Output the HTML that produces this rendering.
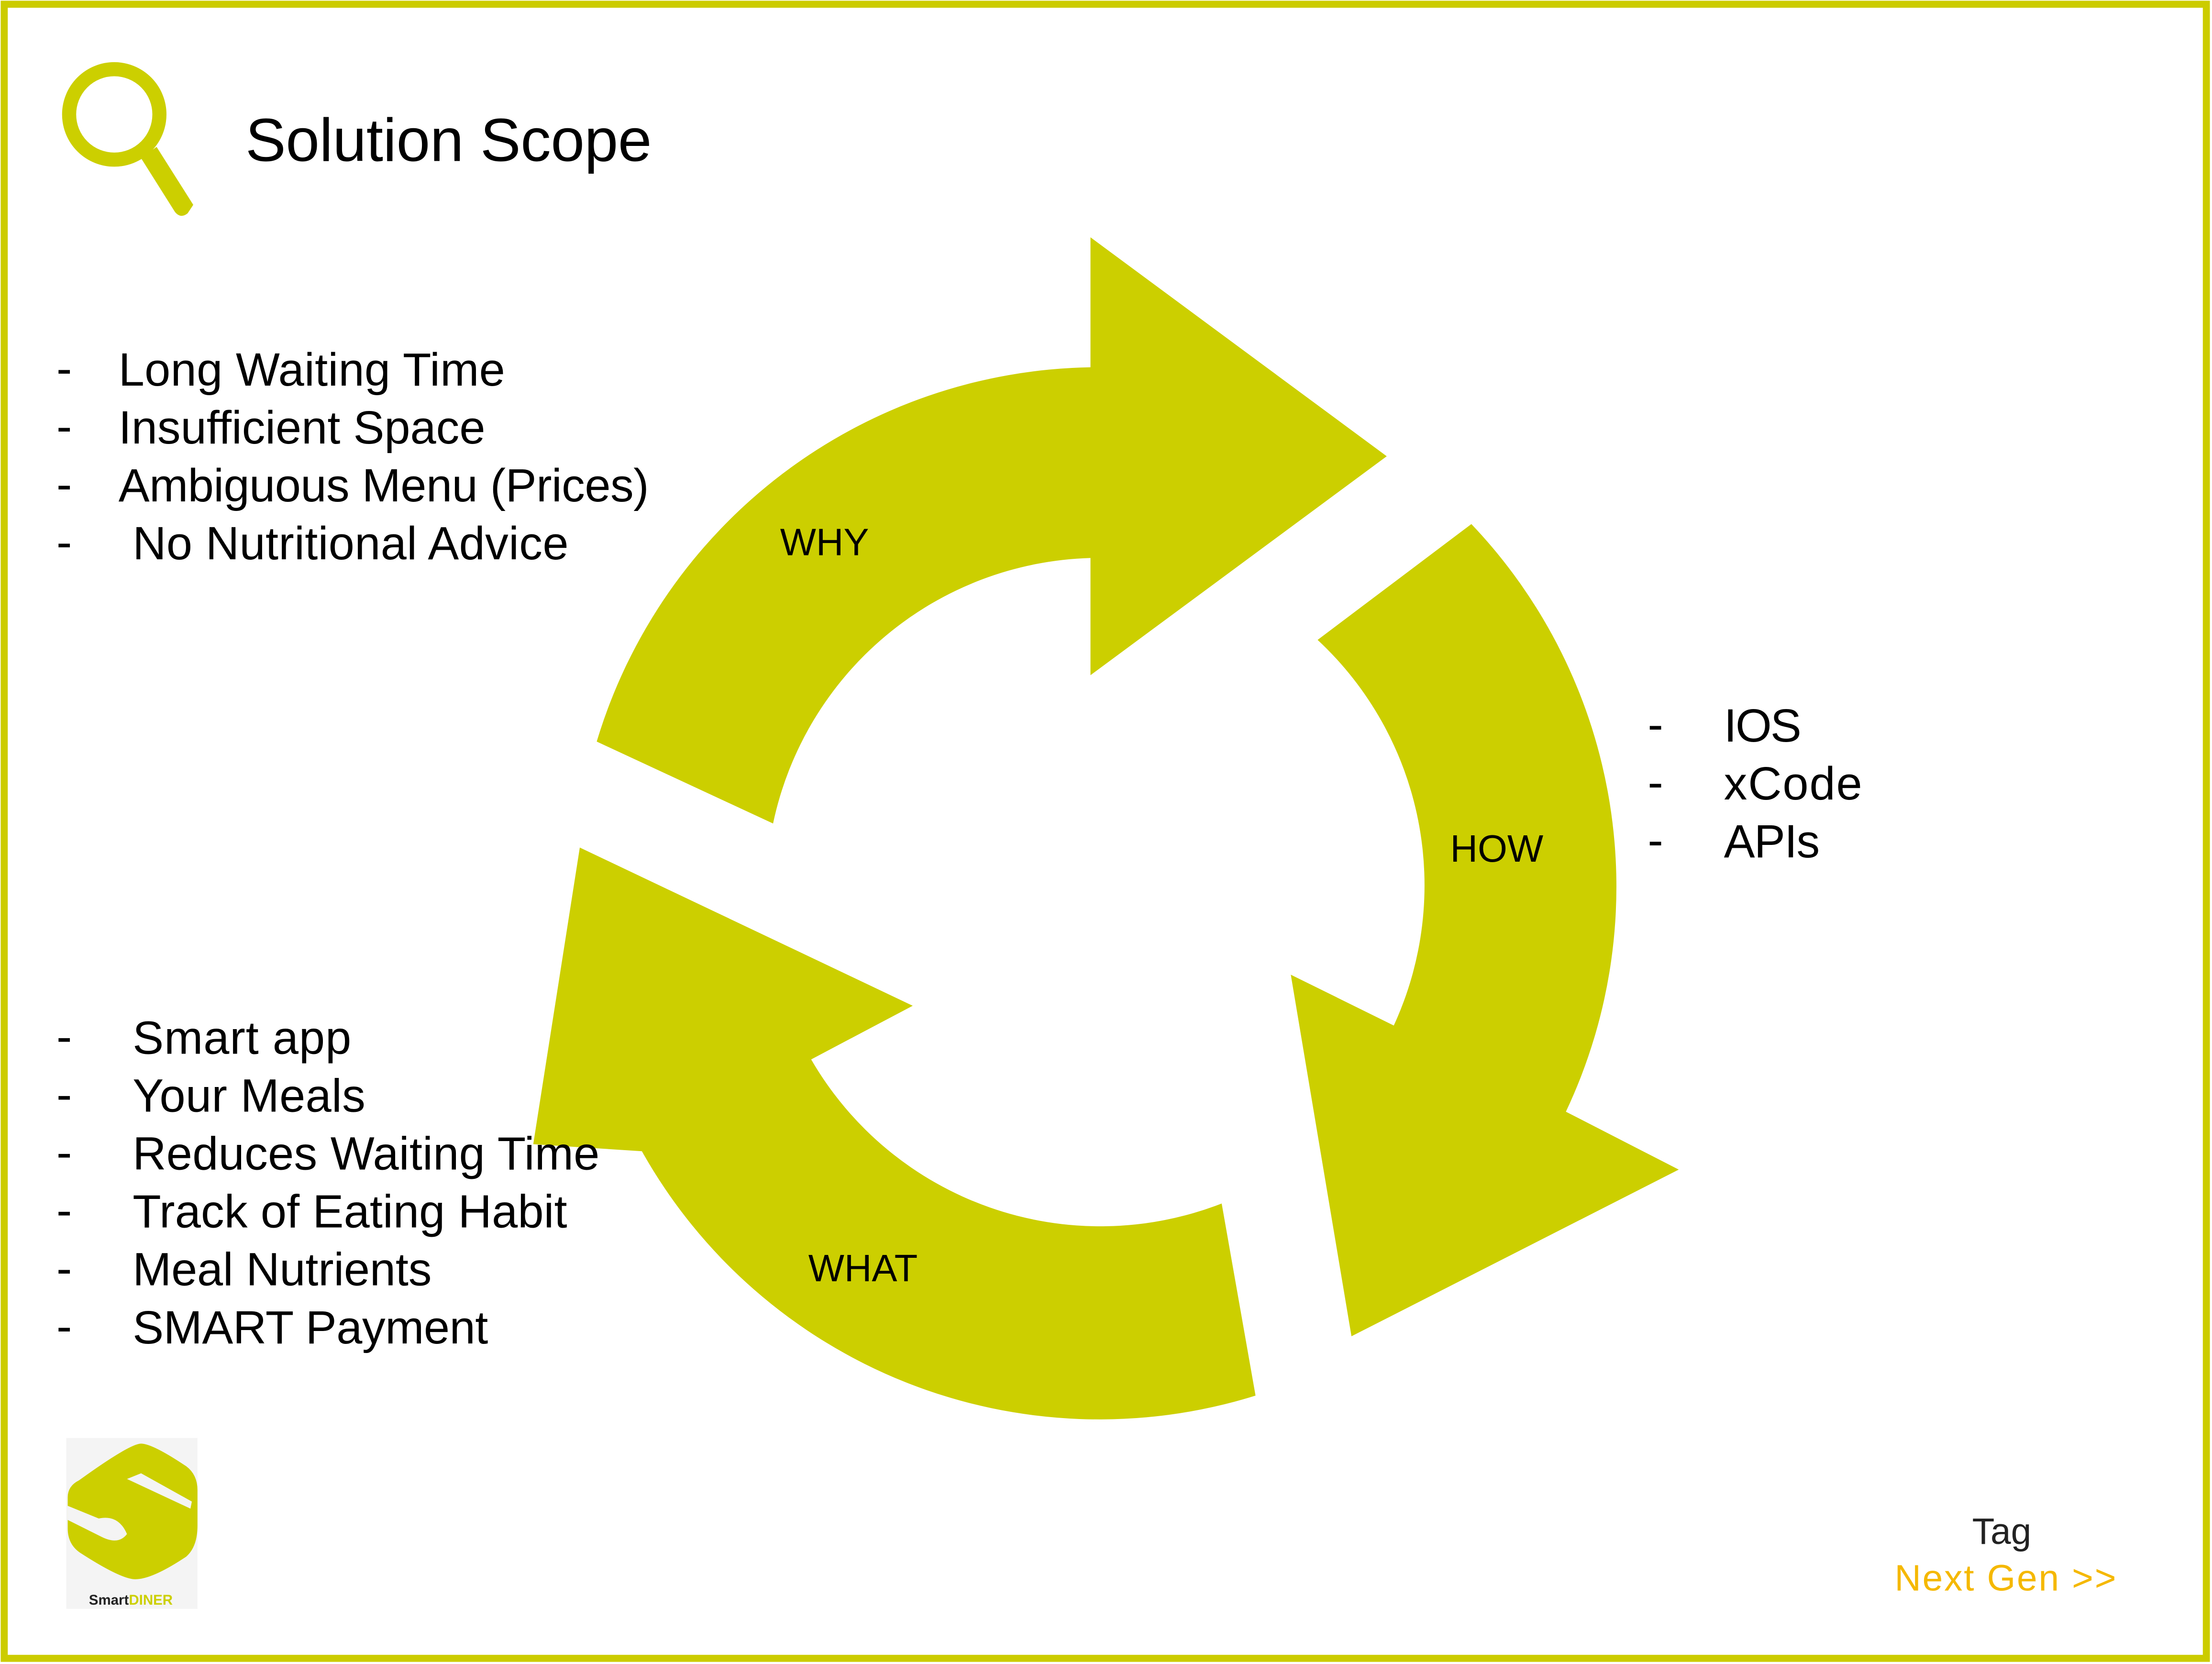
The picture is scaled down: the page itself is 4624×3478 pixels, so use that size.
<!DOCTYPE html>
<html><head><meta charset="utf-8"><style>
html,body{margin:0;padding:0;background:#fff;}
svg{display:block;}
</style></head><body>
<svg width="4624" height="3478" viewBox="0 0 1568 1178" preserveAspectRatio="none" xmlns="http://www.w3.org/2000/svg" font-family="Liberation Sans, sans-serif">
<rect x="0" y="0" width="1568" height="1178" fill="#fff"/>
<rect x="3" y="3" width="1561" height="1171" fill="none" stroke="#CCCC00" stroke-width="5"/>
<!-- magnifier -->
<circle cx="81" cy="81" r="32" fill="none" stroke="#CCCF00" stroke-width="10"/>
<path d="M100 112 L124 150 Q128 155 133 151 L137 145 L111 104 Z" fill="#CCCF00"/>
<text x="174" y="114" font-size="43" fill="#000" textLength="288">Solution Scope</text>
<!-- arrows -->
<g fill="#CCCF00">
<path d="M423 525 A372 372 0 0 1 773 260 L773 168 L983 323 L773 478 L773 395 A237 237 0 0 0 548 583 Z"/>
<path d="M934 453 L1043 371 A372 372 0 0 1 1110 787 L1190 828 L958 946 L915 690 L988 726 A237 237 0 0 0 934 453 Z"/>
<path d="M866 852 L890 988 A372 372 0 0 1 455 815 L378 810 L411 600 L647 712 L575 750 A237 237 0 0 0 866 852 Z"/>
</g>
<g font-size="27" fill="#000">
<text x="553" y="393">WHY</text>
<text x="1028" y="610">HOW</text>
<text x="573" y="907">WHAT</text>
</g>
<g font-size="33" fill="#000">
<text x="40" y="272">-</text><text x="84" y="273" textLength="274">Long Waiting Time</text>
<text x="40" y="313">-</text><text x="84" y="314" textLength="260">Insufficient Space</text>
<text x="40" y="354">-</text><text x="84" y="355" textLength="376">Ambiguous Menu (Prices)</text>
<text x="40" y="395">-</text><text x="94" y="396" textLength="309">No Nutritional Advice</text>
<text x="1168" y="524">-</text><text x="1222" y="525" textLength="55">IOS</text>
<text x="1168" y="565">-</text><text x="1222" y="566" textLength="98">xCode</text>
<text x="1168" y="606">-</text><text x="1222" y="607" textLength="68">APIs</text>
<text x="40" y="745">-</text><text x="94" y="746" textLength="155">Smart app</text>
<text x="40" y="786">-</text><text x="94" y="787" textLength="165">Your Meals</text>
<text x="40" y="827">-</text><text x="94" y="828" textLength="331">Reduces Waiting Time</text>
<text x="40" y="868">-</text><text x="94" y="869" textLength="308">Track of Eating Habit</text>
<text x="40" y="909">-</text><text x="94" y="910" textLength="212">Meal Nutrients</text>
<text x="40" y="950">-</text><text x="94" y="951" textLength="252">SMART Payment</text>
</g>
<!-- logo -->
<rect x="47" y="1018" width="93" height="121" fill="#f4f4f4"/>
<path d="M56 1048 Q92 1022 100 1022 Q108 1022 132 1038 Q140 1044 140 1055 L140 1080 Q140 1095 132 1102 Q108 1118 96 1118 Q86 1118 58 1100 Q48 1094 48 1082 L48 1060 Q48 1052 56 1048 Z" fill="#CCCF00"/>
<path d="M90 1047 L100 1043 L136 1063 L135 1068 Z" fill="#f4f4f4"/>
<path d="M48 1066 L70 1075 Q84 1072 90 1086 Q84 1094 72 1088 L48 1076 Z" fill="#f4f4f4"/>
<text x="63" y="1136" font-size="10" font-weight="bold" fill="#222">Smart<tspan fill="#CCCF00">DINER</tspan></text>
<text x="1398" y="1093" font-size="26" fill="#222">Tag</text>
<text x="1343" y="1126" font-size="26" fill="#F5B800" textLength="157">Next Gen &gt;&gt;</text>
</svg>
</body></html>
